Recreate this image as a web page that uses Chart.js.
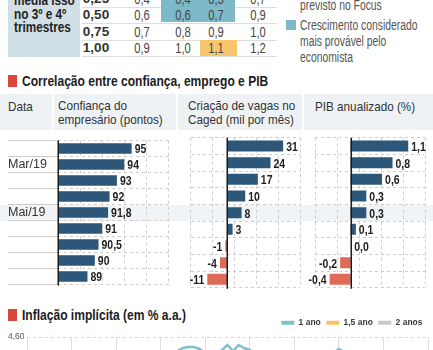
<!DOCTYPE html>
<html>
<head>
<meta charset="utf-8">
<script src="https://cdn.jsdelivr.net/npm/chart.js@4.4.1/dist/chart.umd.min.js"></script>
<style>
  body { margin: 0; width: 433px; height: 350px; overflow: hidden; background: #fff; position: relative;
         font-family: "Liberation Sans", Arial, sans-serif; color: #333; }
  .a { position: absolute; white-space: nowrap; transform-origin: 0 0; }
  .tit { font-weight: bold; font-size: 14px; color: #1c1c1c; line-height: 16px; transform: scaleX(.86); }
  .mark { position: absolute; width: 9px; height: 12px; background: #d9473a; }
  .hd { position: absolute; top: 94px; height: 36px; background: #eef2f5; }
  .ht { font-size: 13px; line-height: 14px; color: #333; transform: scaleX(.9); }
  canvas { position: absolute; }
</style>
</head>
<body>

<!-- tabela de cenarios (topo cortado) -->
<div class="a" style="left:8px;top:-40px;width:72px;height:97px;background:#d1dfe6"></div>
<div class="a" style="left:14px;top:-6px;font-weight:bold;font-size:14px;line-height:13.5px;color:#222;transform:scaleX(.84)">média isso<br>no 3º e 4º<br>trimestres</div>
<div id="tabela"></div>

<div class="a" style="left:286px;top:-12px;width:10px;height:10px;background:#f8c66d"></div>
<div class="a" style="left:286px;top:20px;width:10px;height:10px;background:#7db9c9"></div>
<div class="a" style="left:300px;top:-3px;font-size:14px;line-height:16px;color:#555;transform:scaleX(.74)">previsto no Focus</div>
<div class="a" style="left:300px;top:17px;font-size:14px;line-height:16px;color:#555;transform:scaleX(.74)">Crescimento considerado<br>mais provável pelo<br>economista</div>

<!-- correlacao -->
<div class="mark" style="left:8px;top:75px"></div>
<div class="a tit" style="left:22px;top:73px">Correlação entre confiança, emprego e PIB</div>

<div class="hd" style="left:0;width:52px"></div>
<div class="hd" style="left:54px;width:122px"></div>
<div class="hd" style="left:178px;width:124px"></div>
<div class="hd" style="left:304px;width:129px"></div>
<div class="a ht" style="left:8px;top:100px">Data</div>
<div class="a ht" style="left:58px;top:99px">Confiança do<br>empresário (pontos)</div>
<div class="a ht" style="left:188px;top:99px">Criação de vagas no<br>Caged (mil por mês)</div>
<div class="a ht" style="left:315px;top:100px">PIB anualizado (%)</div>

<div class="a" style="left:0;top:204.5px;width:433px;height:16.7px;background:#f1f4f6"></div>
<canvas id="confianca" width="172" height="165" style="left:0;top:130px"></canvas>
<canvas id="vagas" width="130" height="165" style="left:172px;top:130px"></canvas>
<canvas id="pib" width="129" height="165" style="left:304px;top:130px"></canvas>

<!-- inflacao implicita -->
<div class="mark" style="left:8px;top:309px"></div>
<div class="a tit" style="left:22px;top:307px">Inflação implícita (em % a.a.)</div>
<canvas id="inflacao" width="433" height="132" style="left:0;top:313px"></canvas>

<script>
const FONT = '"Liberation Sans", Arial, sans-serif';
Chart.defaults.font.family = FONT;

// tabela: linhas (media no 3o e 4o tri) x colunas
const mediaTri = ['0,25', '0,50', '0,75', '1,00'];
const col1 = ['0,4', '0,6', '0,7', '0,9'];
const col2 = ['0,4', '0,6', '0,8', '1,0'];
const col3 = ['0,5', '0,7', '0,9', '1,1'];
const col4 = ['0,7', '0,9', '1,0', '1,2'];

// correlacao
const meses = ['', 'Mar/19', '', '', 'Mai/19', '', '', '', ''];
const confianca = [95, 94, 93, 92, 91.8, 91, 90.5, 90, 89];
const vagas = [31, 24, 17, 10, 8, 3, -1, -4, -11];
const pib = [1.1, 0.8, 0.6, 0.3, 0.3, 0.1, 0.0, -0.2, -0.4];

// inflacao implicita (parte visivel so no topo)
const ano1 = [4.36, 4.34, 4.33, 4.35, 4.37, 4.36, 4.34, 4.32, 4.33, 4.35,
  4.37, 4.38, 4.36, 4.35, 4.37, 4.39, 4.40, 4.38, 4.37, 4.39,
  4.41, 4.40, 4.39, 4.41, 4.42, 4.41, 4.43, 4.46, 4.49, 4.50,
  4.50, 4.48, 4.44, 4.41, 4.43, 4.47, 4.52, 4.46, 4.52, 4.49,
  4.47, 4.43, 4.40, 4.38, 4.39, 4.41, 4.40, 4.38, 4.37, 4.39,
  4.40, 4.41, 4.42, 4.41, 4.43, 4.44, 4.48, 4.45, 4.42, 4.40,
  4.39, 4.37, 4.38, 4.36, 4.35, 4.37, 4.36, 4.34, 4.33, 4.35, 4.34, 4.32, 4.31];
const ano15 = [4.18, 4.16, 4.15, 4.17, 4.19, 4.18, 4.16, 4.14, 4.15, 4.17,
  4.19, 4.20, 4.18, 4.17, 4.19, 4.21, 4.22, 4.20, 4.19, 4.21,
  4.23, 4.22, 4.21, 4.23, 4.24, 4.23, 4.25, 4.27, 4.30, 4.31,
  4.31, 4.29, 4.26, 4.23, 4.25, 4.28, 4.32, 4.28, 4.33, 4.30,
  4.28, 4.25, 4.22, 4.20, 4.21, 4.23, 4.22, 4.20, 4.19, 4.21,
  4.22, 4.23, 4.24, 4.23, 4.25, 4.26, 4.29, 4.27, 4.24, 4.22,
  4.21, 4.19, 4.20, 4.18, 4.17, 4.19, 4.18, 4.16, 4.15, 4.17, 4.16, 4.14, 4.13];
const ano2 = [4.05, 4.03, 4.02, 4.04, 4.06, 4.05, 4.03, 4.01, 4.02, 4.04,
  4.06, 4.07, 4.05, 4.04, 4.06, 4.08, 4.09, 4.07, 4.06, 4.08,
  4.10, 4.09, 4.08, 4.10, 4.11, 4.10, 4.12, 4.14, 4.16, 4.17,
  4.17, 4.15, 4.13, 4.10, 4.12, 4.15, 4.18, 4.15, 4.19, 4.17,
  4.15, 4.12, 4.09, 4.07, 4.08, 4.10, 4.09, 4.07, 4.06, 4.08,
  4.09, 4.10, 4.11, 4.10, 4.12, 4.13, 4.16, 4.14, 4.11, 4.09,
  4.08, 4.06, 4.07, 4.05, 4.04, 4.06, 4.05, 4.03, 4.02, 4.04, 4.03, 4.01, 4.00];
const semanas = ano1.map((_, i) => i);

// --- tabela em HTML ---
const tab = document.getElementById('tabela');
function box(l, t, w, h, bg) {
  const d = document.createElement('div');
  d.className = 'a';
  d.style.cssText = `left:${l}px;top:${t}px;width:${w}px;height:${h}px;background:${bg}`;
  tab.appendChild(d);
}
function cell(txt, cx, cy, css) {
  const d = document.createElement('div');
  d.className = 'a';
  d.style.cssText = `left:${cx - 20}px;top:${cy - 8}px;width:40px;text-align:center;line-height:16px;transform-origin:50% 0;` + css;
  d.textContent = txt;
  tab.appendChild(d);
}
[6.5, 23, 39.5, 56].forEach(y => box(82, y, 195, 1, '#dedede'));
box(161, -10, 74, 32, '#7db9c9');
box(200, 39.5, 37, 16.5, '#f8c66d');
const rowY = [-1.5, 15, 31.5, 48];
const colX = [142, 183, 216, 258];
[col1, col2, col3, col4].forEach((col, c) => col.forEach((v, r) =>
  cell(v, colX[c], rowY[r], 'font-size:14px;color:#444;transform:scaleX(.8)')));
mediaTri.forEach((v, r) => cell(v, 96, rowY[r], 'font-size:13.5px;font-weight:bold;color:#333'));

// --- barras horizontais ---
const POS = '#2c5778', NEG = '#e06a58', GRID = '#cdcdcd';

const barDecor = {
  id: 'barDecor',
  afterDatasetsDraw(chart, args, o) {
    const {ctx, chartArea: a, scales: {x}} = chart;
    const px = Math.round(x.getPixelForValue(o.base)) + 0.25;
    ctx.save();
    ctx.strokeStyle = '#1b1b1b';
    ctx.lineWidth = 1.5;
    ctx.beginPath();
    ctx.moveTo(px, a.top);
    ctx.lineTo(px, a.bottom + 1);
    ctx.stroke();
    ctx.font = 'bold 12.5px ' + FONT;
    ctx.fillStyle = '#1e1e1e';
    ctx.textBaseline = 'middle';
    const vals = chart.data.datasets[0].data;
    chart.getDatasetMeta(0).data.forEach((bar, i) => {
      const v = vals[i];
      const neg = v < 0;
      const tx = neg ? bar.x - 3 : Math.max(bar.x, px) + 3;
      ctx.save();
      ctx.translate(tx, bar.y + 1.5);
      ctx.scale(0.84, 1);
      ctx.textAlign = neg ? 'right' : 'left';
      ctx.fillText(o.fmt(v), 0, 0);
      ctx.restore();
    });
    ctx.restore();
  }
};

function barChart(id, values, cfg) {
  return new Chart(document.getElementById(id), {
    type: 'bar',
    data: {
      labels: meses,
      datasets: [{
        data: values,
        backgroundColor: c => c.raw < 0 ? NEG : POS,
        categoryPercentage: 1,
        barPercentage: 0.66,
      }]
    },
    options: {
      indexAxis: 'y',
      responsive: false,
      animation: false,
      layout: { padding: cfg.pad },
      plugins: {
        legend: { display: false },
        tooltip: { enabled: false },
        barDecor: { base: cfg.base, fmt: cfg.fmt },
      },
      scales: {
        x: {
          min: cfg.min, max: cfg.max,
          afterBuildTicks: s => { s.ticks = [0, 1, 2, 3, 4, 5].map(k => ({ value: cfg.min + k * (cfg.max - cfg.min) / 5 })); },
          ticks: { display: false },
          grid: { color: GRID, drawTicks: false },
          border: { display: false, dash: [3, 3] },
        },
        y: {
          afterFit: s => { s.width = cfg.axisW; },
          ticks: { display: cfg.axisW > 0, autoSkip: false, crossAlign: 'far', color: '#333', font: { size: 12.5 } },
          grid: { color: GRID, drawTicks: cfg.axisW > 0, tickLength: cfg.axisW },
          border: { display: false, dash: [3, 3] },
        }
      }
    },
    plugins: [barDecor]
  });
}

const virgula = v => String(v).replace('.', ',');
barChart('confianca', confianca, {
  min: 85, max: 100, base: 85, axisW: 50, fmt: virgula,
  pad: { left: 8, right: 3.5, top: 7.7, bottom: 7.3 },
});
barChart('vagas', vagas, {
  min: -20.3, max: 40.6, base: 0, axisW: 0, fmt: virgula,
  pad: { left: 18.5, right: 1.5, top: 7.7, bottom: 7.3 },
});
barChart('pib', pib, {
  min: -0.68, max: 1.42, base: 0, axisW: 0, fmt: v => v.toFixed(1).replace('.', ','),
  pad: { left: 11, right: 8, top: 7.7, bottom: 7.3 },
});

// --- linhas ---
new Chart(document.getElementById('inflacao'), {
  type: 'line',
  data: {
    labels: semanas,
    datasets: [
      { label: '1 ano', data: ano1, borderColor: '#7fbfcf', backgroundColor: '#7fbfcf', borderWidth: 2.5 },
      { label: '1,5 ano', data: ano15, borderColor: '#f6c265', backgroundColor: '#f6c265', borderWidth: 2 },
      { label: '2 anos', data: ano2, borderColor: '#cacaca', backgroundColor: '#cacaca', borderWidth: 2 },
    ]
  },
  options: {
    responsive: false,
    animation: false,
    elements: { point: { radius: 0 }, line: { tension: 0 } },
    layout: { padding: { left: 8, right: 5 } },
    plugins: {
      tooltip: { enabled: false },
      legend: {
        position: 'top', align: 'end',
        labels: {
          boxWidth: 13, boxHeight: 4, padding: 5.5, color: '#3a3a3a',
          font: { size: 8.5, weight: 'bold' },
          generateLabels: ch => Chart.defaults.plugins.legend.labels.generateLabels(ch).map(l => ({ ...l, lineWidth: 0 })),
        }
      }
    },
    scales: {
      x: {
        ticks: { display: false },
        grid: { color: c => c.index % 8 === 0 ? '#e0e0e0' : 'transparent', drawTicks: false },
        border: { display: false },
      },
      y: {
        min: 3.6, max: 4.6,
        afterFit: s => { s.width = 19; },
        ticks: { stepSize: 0.2, crossAlign: 'far', color: '#555', font: { size: 8.5 },
                 callback: v => v.toFixed(2).replace('.', ',') },
        grid: { color: '#d6d6d6', drawTicks: false },
        border: { display: false, dash: [3, 3] },
      }
    }
  }
});
</script>
</body>
</html>
